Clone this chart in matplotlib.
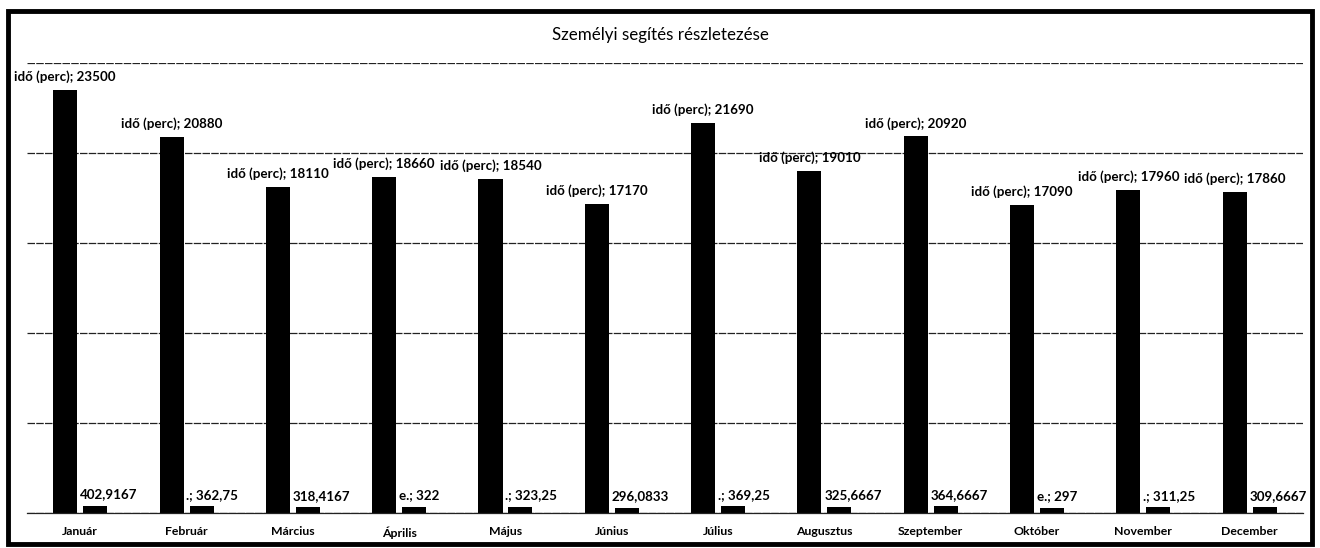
import numpy as np
import matplotlib.pyplot as plt
from matplotlib.patches import Rectangle

months = ['Január', 'Február', 'Március', 'Április', 'Május', 'Június',
          'Július', 'Augusztus', 'Szeptember', 'Október', 'November', 'December']
ido_perc = [23500, 20880, 18110, 18660, 18540, 17170, 21690, 19010, 20920, 17090, 17960, 17860]
atlag = [402.9167, 362.75, 318.4167, 322, 323.25, 296.0833, 369.25, 325.6667,
         364.6667, 297, 311.25, 309.6667]
# the part of each small-bar label left in view beside the big bar
label_prefix = ['', '.; ', '', 'e.; ', '.; ', '', '.; ', '', '', 'e.; ', '.; ', '']


def hu_num(v):
    s = f'{v:.4f}'.rstrip('0').rstrip('.')
    return s.replace('.', ',')


plt.rcParams['font.family'] = ['Lato', 'DejaVu Sans']

fig = plt.figure(figsize=(13.2, 5.48), dpi=100)
ax = fig.add_axes([0.0205, 0.064, 0.9665, 0.821])

x = np.arange(len(months))
w = 0.226
off = 0.141
b1 = ax.bar(x - off, ido_perc, width=w, color='black', zorder=2)
b2 = ax.bar(x + off, atlag, width=w, color='black', zorder=2)

for i, bar in enumerate(b1):
    ax.annotate(f'idő (perc); {ido_perc[i]}', (bar.get_x() + bar.get_width() / 2, ido_perc[i]),
                xytext=(0, 5), textcoords='offset points', ha='center', va='bottom',
                fontsize=9.6, fontweight='bold', zorder=3)
for i, bar in enumerate(b1):
    ax.annotate(label_prefix[i] + hu_num(atlag[i]), (bar.get_x() + bar.get_width(), atlag[i]),
                xytext=(2, 4), textcoords='offset points', ha='left', va='bottom',
                fontsize=9.6, fontweight='bold', zorder=3)

ax.set_xlim(-0.5, len(months) - 0.5)
ax.set_ylim(0, 25000)
ax.set_yticks(np.arange(0, 25001, 5000))
ax.yaxis.grid(True, color='#222222', linewidth=0.9, linestyle=(0, (6, 1)), zorder=0)
ax.set_axisbelow(True)
ax.tick_params(axis='y', left=False, labelleft=False)
ax.tick_params(axis='x', bottom=False, pad=6)
ax.set_xticks(x)
ax.set_xticklabels(months, fontsize=8.8, fontweight='bold')
for s in ['top', 'right', 'left']:
    ax.spines[s].set_visible(False)
ax.spines['bottom'].set_color('#222222')
ax.spines['bottom'].set_linestyle((0, (6, 1)))
ax.spines['bottom'].set_linewidth(0.9)

fig.text(0.5, 0.936, 'Személyi segítés részletezése', ha='center', va='center', fontsize=12.2)

fig.patches.append(Rectangle((0.006, 0.008), 0.988, 0.972, transform=fig.transFigure,
                             fill=False, edgecolor='black', linewidth=3.5))

plt.savefig('out.png', dpi=100)
